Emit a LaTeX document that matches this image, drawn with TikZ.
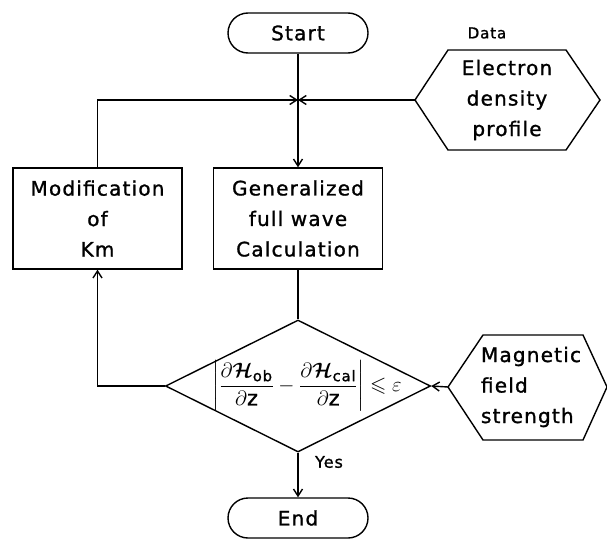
\documentclass[tikz,border=0pt]{standalone}
\usepackage{amsmath,amssymb}
\usepackage{fontspec}
\setmainfont{DejaVu Sans}[LetterSpace=6,FakeBold=1.2]
\usetikzlibrary{arrows.meta,shapes.geometric}
\begin{document}
\begin{tikzpicture}[x=1pt,y=-1pt,line width=1.4pt,
  txt/.style={font=\fontsize{20}{30.5}\selectfont,align=center},
  term/.style={draw,rounded corners=20pt,minimum width=140pt,minimum height=40pt,txt},
  procbox/.style={draw,minimum width=169pt,minimum height=101pt,txt},
  arr/.style={-{Straight Barb[length=7pt,width=9pt]}}]
\useasboundingbox (0,0) rectangle (607,538);
\node[term] (start) at (298,33) {Start};
\node[term] (end) at (298,518) {End};
\node[procbox] (mod) at (97.5,218.5) {Modification\\of\\Km};
\node[procbox] (gen) at (298,218.5) {Generalized\\full wave\\Calculation};
\node[draw,diamond,minimum width=265pt,minimum height=132pt,inner sep=0pt] (dec) at (298,386) {};
\node (f) at (307,386) {\fontsize{21}{24}\selectfont$\displaystyle\left|\frac{\partial\boldsymbol{\mathcal{H}}_{\text{ob}}}{\partial\text{z}}-\frac{\partial\boldsymbol{\mathcal{H}}_{\text{cal}}}{\partial\text{z}}\right|\leqslant\varepsilon$};
% electron density hexagon
\draw (415,100) coordinate (eh) -- (448,50) -- (566,50) -- (600,100) -- (566,150) -- (448,150) -- cycle;
\node[txt] (etext) at (507,100) {Electron\\density\\profile};
\node[font=\fontsize{15}{17}\selectfont] (data) at (487,33) {Data};
% magnetic field hexagon
\draw (448,387) coordinate (mh) -- (483,335) -- (583,335) -- (607,387) -- (583,440) -- (483,440) -- cycle;
\node[txt,align=left] (mtext) at (531,387) {Magnetic\\field\\strength};
% connectors
\coordinate (j) at (298,100);
\draw (start) -- (j);
\draw[arr] (j) -- (gen);
\draw[arr] (mod.north) |- (j);
\draw[arr] (eh) -- (j);
\draw (gen) -- (dec.north);
\draw[arr] (dec.west) -| (mod.south);
\draw[arr] (mh) -- (dec.east);
\draw[arr] (dec.south) -- (end);
\node[font=\fontsize{16}{18}\selectfont] (yes) at (329,462) {Yes};
\end{tikzpicture}
\end{document}
